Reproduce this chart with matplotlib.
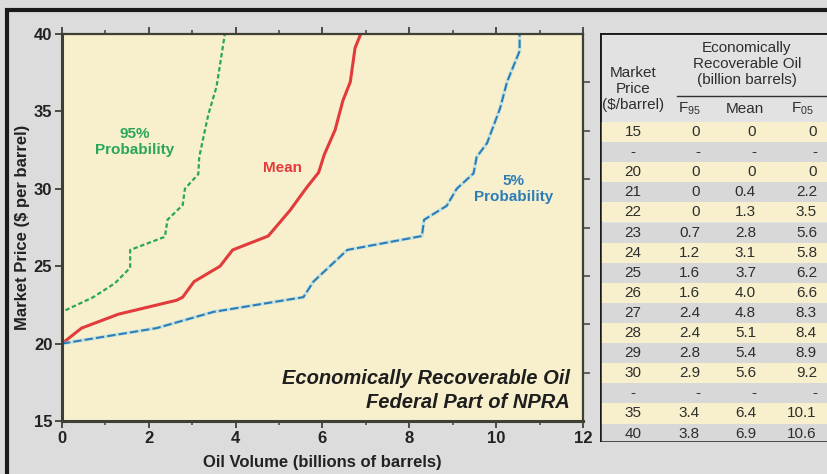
import matplotlib
matplotlib.use('Agg')
import matplotlib.pyplot as plt
from matplotlib.patches import Rectangle

plt.rcParams['font.family'] = ['Liberation Sans', 'DejaVu Sans']
plt.rcParams['mathtext.fontset'] = 'custom'
plt.rcParams['mathtext.rm'] = 'Liberation Sans'

# curves (volume in billion barrels, price in $/barrel)
f95_vol   = [0, 0, 0.72, 1.22, 1.57, 1.57, 2.37, 2.43, 2.78, 2.83, 3.14, 3.16, 3.37, 3.56, 3.75]
f95_price = [20, 22.05, 23.0, 23.9, 24.9, 26.05, 26.9, 28.0, 28.95, 30.0, 30.95, 32.05, 34.8, 36.6, 40]

mean_vol   = [0, 0.45, 1.3, 2.64, 2.78, 3.04, 3.64, 3.93, 4.75, 5.25, 5.64, 5.91, 6.04, 6.29, 6.47, 6.64, 6.75, 6.88]
mean_price = [20, 21.0, 21.9, 22.8, 23.0, 24.0, 25.0, 26.05, 26.95, 28.6, 30.1, 31.05, 32.2, 33.8, 35.7, 36.9, 39.1, 40]

f05_vol   = [0, 2.18, 3.49, 5.56, 5.79, 6.57, 8.29, 8.34, 8.86, 9.09, 9.48, 9.55, 9.79, 10.09, 10.25, 10.54, 10.54]
f05_price = [20, 21.0, 22.05, 23.0, 24.0, 26.05, 26.95, 28.0, 28.9, 30.0, 31.0, 32.05, 32.95, 35.2, 36.9, 38.9, 40]

# table
tbl_price = ['15', '-', '20', '21', '22', '23', '24', '25', '26', '27', '28', '29', '30', '-', '35', '40']
tbl_f95   = ['0', '-', '0', '0', '0', '0.7', '1.2', '1.6', '1.6', '2.4', '2.4', '2.8', '2.9', '-', '3.4', '3.8']
tbl_mean  = ['0', '-', '0', '0.4', '1.3', '2.8', '3.1', '3.7', '4.0', '4.8', '5.1', '5.4', '5.6', '-', '6.4', '6.9']
tbl_f05   = ['0', '-', '0', '2.2', '3.5', '5.6', '5.8', '6.2', '6.6', '8.3', '8.4', '8.9', '9.2', '-', '10.1', '10.6']

W, H = 828, 474
bg = '#dcdcdc'
plot_bg = '#f8f0cc'
spine_c = '#3f4035'
green = '#2aa65a'
red = '#e23b3b'
blue = '#2c7db8'

fig = plt.figure(figsize=(W / 100, H / 100), dpi=100)
fig.patch.set_facecolor(bg)

# outer frame (only top and left edges are visible)
fig.add_artist(Rectangle((7 / W, -0.2), 1.5, (H - 10) / H + 0.2, transform=fig.transFigure,
                         facecolor='none', edgecolor='#1a1a1a', lw=3))

ax = fig.add_axes([62 / W, (H - 421) / H, (583 - 62) / W, (421 - 34) / H])
ax.set_facecolor(plot_bg)

ax.plot(f95_vol, f95_price, color=green, lw=1.6, linestyle=(0, (2, 1.2)))
ax.plot(mean_vol, mean_price, color=red, lw=2.2)
ax.plot(f05_vol, f05_price, color='#9ad6e8', lw=2.6, alpha=0.5)
ax.plot(f05_vol, f05_price, color=blue, lw=1.5, linestyle=(0, (4, 1.5)))

ax.set_xlim(0, 12)
ax.set_ylim(15, 40)
ax.set_xticks(range(0, 13, 2))
ax.set_xticks(range(1, 12, 2), minor=True)
ax.set_yticks(range(15, 41, 5))
for s in ax.spines.values():
    s.set_color(spine_c)
    s.set_linewidth(1.6)
ax.spines['left'].set_linewidth(2.2)
ax.spines['bottom'].set_linewidth(2.2)
ax.tick_params(axis='both', which='major', direction='out', length=5, width=1.3, color=spine_c,
               labelsize=12, pad=2)
ax.tick_params(axis='x', which='minor', direction='out', length=3, width=1.1, color=spine_c)
ax.tick_params(axis='x', which='both', top=True)
for lab in ax.get_xticklabels() + ax.get_yticklabels():
    lab.set_fontweight('bold')
    lab.set_color('#222222')

ax.set_xlabel('Oil Volume (billions of barrels)', fontsize=12, fontweight='bold', color='#222222', labelpad=7)
ax.set_ylabel('Market Price ($ per barrel)', fontsize=12, fontweight='bold', color='#222222', labelpad=3)

# right-hand ticks without labels
axr = ax.twinx()
axr.set_ylim(15, 40)
axr.set_yticks([15 + 25 / 8 * k for k in range(1, 8)])
axr.set_yticklabels([])
axr.tick_params(axis='y', direction='out', length=5, width=1.1, color=spine_c)
for s in axr.spines.values():
    s.set_visible(False)

ax.text(1.68, 33.0, '95%\nProbability', color=green, fontsize=11, fontweight='bold', ha='center', va='center',
        linespacing=1.2)
ax.text(5.09, 31.35, 'Mean', color=red, fontsize=11, fontweight='bold', ha='center', va='center')
ax.text(10.4, 30.0, '5%\nProbability', color=blue, fontsize=11, fontweight='bold', ha='center', va='center',
        linespacing=1.2)
ax.text(11.7, 16.97, 'Economically Recoverable Oil\nFederal Part of NPRA', fontsize=14.5, fontweight='bold',
        fontstyle='italic', ha='right', va='center', color='#1e1e1e', linespacing=1.3)

# table panel, coordinates in pixels from its top-left corner
tx0, ty0, ty1 = 600, 33, 442
tw = W - tx0 + 10
th = ty1 - ty0
axt = fig.add_axes([tx0 / W, (H - ty1) / H, tw / W, th / H])
axt.set_xlim(0, tw)
axt.set_ylim(th, 0)
axt.axis('off')
axt.add_patch(Rectangle((0, 0), tw, th, facecolor='#e2e2e2', edgecolor='#1a1a1a', lw=1.8, zorder=0))

txt_c = '#2e2e2e'
axt.text(33.5, 56, 'Market\nPrice\n($/barrel)', ha='center', va='center', fontsize=11, color=txt_c, linespacing=1.15)
axt.text(147, 31, 'Economically\nRecoverable Oil\n(billion barrels)', ha='center', va='center', fontsize=11,
         color=txt_c, linespacing=1.15)
axt.plot([77, tw], [63, 63], color='#333333', lw=1.0)
hy = 76
axt.text(89, hy, r'F$\mathregular{_{95}}$', ha='center', va='center', fontsize=11, color=txt_c)
axt.text(145, hy, 'Mean', ha='center', va='center', fontsize=11, color=txt_c)
axt.text(202, hy, r'F$\mathregular{_{05}}$', ha='center', va='center', fontsize=11, color=txt_c)

row0, rh = 89, 20.1
for i in range(len(tbl_price)):
    top = row0 + i * rh
    h = rh
    if i == len(tbl_price) - 1:
        h = th - top
    axt.add_patch(Rectangle((1, top), tw, h, facecolor='#f8f0cc' if i % 2 == 0 else '#d8d8d8',
                            edgecolor='none', zorder=1))
    yc = top + rh / 2
    axt.text(33, yc, tbl_price[i], ha='center', va='center', fontsize=11, color=txt_c, zorder=2)
    axt.text(100, yc, tbl_f95[i], ha='right', va='center', fontsize=11, color=txt_c, zorder=2)
    axt.text(156, yc, tbl_mean[i], ha='right', va='center', fontsize=11, color=txt_c, zorder=2)
    axt.text(217, yc, tbl_f05[i], ha='right', va='center', fontsize=11, color=txt_c, zorder=2)
axt.add_patch(Rectangle((0, 0), tw, th, facecolor='none', edgecolor='#1a1a1a', lw=1.8, zorder=3))

fig.savefig('out.png', dpi=100, facecolor=fig.get_facecolor())
